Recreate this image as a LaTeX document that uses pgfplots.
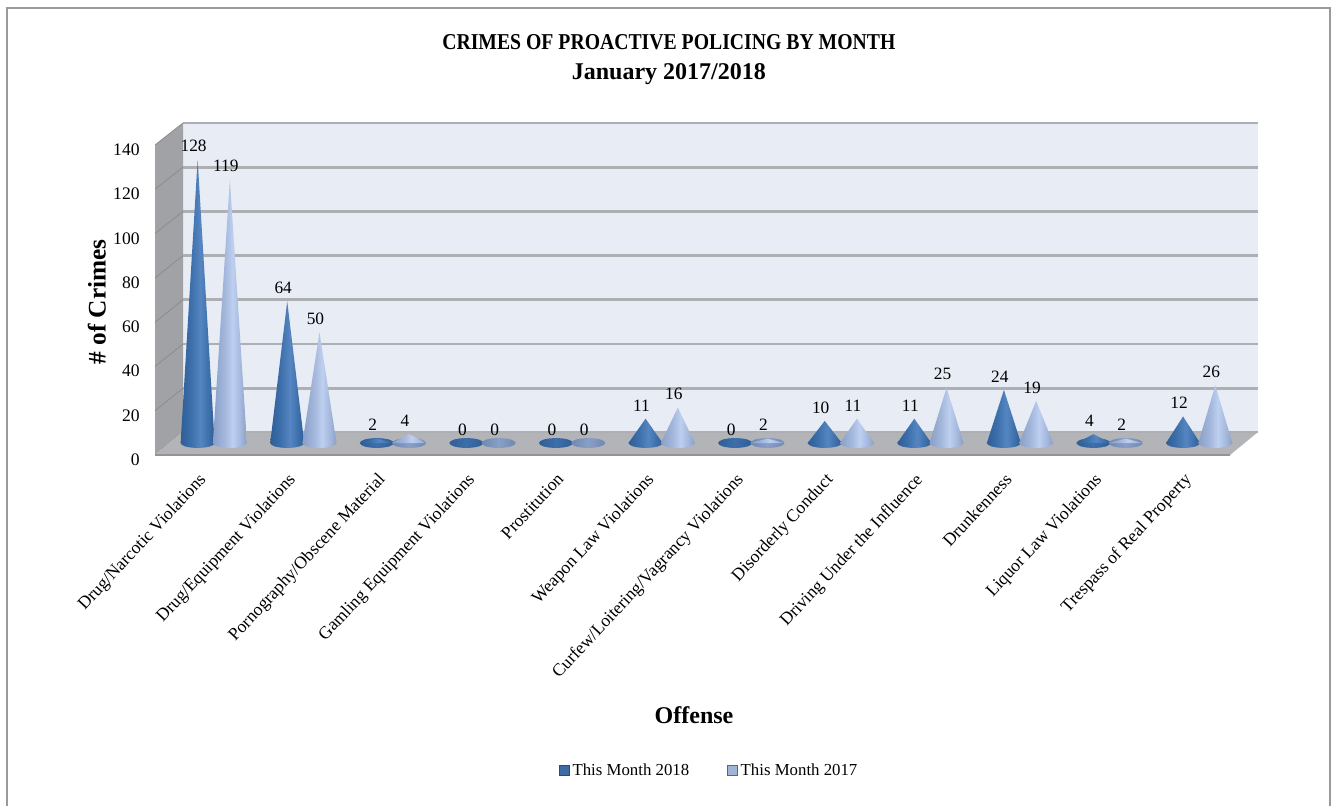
\documentclass[border=0pt]{standalone}
\usepackage{fontspec}
\setmainfont{Liberation Serif}
\newfontfamily\condfont[FakeStretch=0.87]{Liberation Serif}
\usepackage{pgfplots}
\usepackage{pgfplotstable}
\pgfplotsset{compat=1.18}

\definecolor{wallback}{HTML}{E8ECF5}
\definecolor{wallside}{HTML}{A1A2A5}
\definecolor{wallfloor}{HTML}{B2B4B7}
\definecolor{gridc}{HTML}{AEAFB3}
\definecolor{frameg}{HTML}{9A9A9A}
\definecolor{legdark}{HTML}{3E6BA3}
\definecolor{leglight}{HTML}{A0B4D8}
\definecolor{da}{HTML}{2F5E96}
\definecolor{db}{HTML}{3D6FAB}
\definecolor{dc}{HTML}{5586C2}
\definecolor{la}{HTML}{8A9FC6}
\definecolor{lb}{HTML}{A3B7DC}
\definecolor{lc}{HTML}{BED0F0}
\definecolor{ea}{HTML}{6F88B2}

\pgfdeclarehorizontalshading{conedark}{100bp}{
  color(0bp)=(da); color(25bp)=(da); color(40bp)=(db);
  color(54bp)=(dc); color(66bp)=(db); color(75bp)=(da); color(100bp)=(da)}
\pgfdeclarehorizontalshading{conelight}{100bp}{
  color(0bp)=(la); color(25bp)=(la); color(42bp)=(lb);
  color(54bp)=(lc); color(66bp)=(lb); color(75bp)=(la); color(100bp)=(la)}
\pgfdeclarehorizontalshading{basedark}{100bp}{
  color(0bp)=(da); color(25bp)=(da); color(50bp)=(db); color(75bp)=(da); color(100bp)=(da)}
\pgfdeclarehorizontalshading{baselight}{100bp}{
  color(0bp)=(ea); color(25bp)=(ea); color(50bp)=(la); color(75bp)=(ea); color(100bp)=(ea)}

% values per offense
\pgfplotstableread{
x  v18 v17
0  128 119
1  64  50
2  2   4
3  0   0
4  0   0
5  11  16
6  0   2
7  10  11
8  11  25
9  24  19
10 4   2
11 12  26
}\crimes

% base ellipse outline, unit size
\pgfplotstableread{
a      b
-1     0
-0.92  -0.38
-0.71  -0.71
-0.38  -0.92
0      -1
0.38   -0.92
0.71   -0.71
0.92   -0.38
1      0
0.92   0.38
0.71   0.71
0.38   0.92
0      1
-0.38  0.92
-0.71  0.71
-0.92  0.38
}\unitellipse

% #1 category, #2 value, #3 cone shading, #4 flat base shading, #5 x offset
\newcommand\cone[5]{%
  \pgfmathsetmacro\X{#1+0.156+#5}%
  \pgfmathsetmacro\L{\X-0.19}%
  \pgfmathsetmacro\R{\X+0.19}%
  \pgfmathsetmacro\T{#2+5.42}%
  \ifdim #2pt>8pt \def\baseshade{#3}\else \def\baseshade{#4}\fi
  \edef\doit{%
    \noexpand\addplot[shading=\baseshade,draw=none,forget plot] table[x expr=\X+0.19*\noexpand\thisrow{a},y expr=5.42+2.26*\noexpand\thisrow{b}] {\noexpand\unitellipse};
    \noexpand\addplot[shading=#3,draw=none,forget plot] coordinates {(\L,5.42) (\X,\T) (\R,5.42)};
  }\doit}

\begin{document}
\begin{tikzpicture}[x=0.75pt,y=-0.75pt]
  \useasboundingbox (0,0) rectangle (1337,806);
  \fill[white] (0,0) rectangle (1337,806);
  \draw[frameg,line width=1.5pt] (7,806) -- (7,8) -- (1330,8) -- (1330,806);

  % 3d walls
  \fill[wallback] (183,123) rectangle (1258,432);
  \fill[wallside] (155,145) -- (183,123) -- (183,432) -- (155,455) -- cycle;
  \fill[wallfloor] (155,455) -- (183,432) -- (1258,432) -- (1230,455) -- cycle;
  \foreach \k in {0,...,6}{
    \draw[gridc,line width=2.2pt] (183,123+44.2*\k) -- (1258,123+44.2*\k);
    \draw[black!45,line width=0.6pt] (155,145+44.3*\k) -- (183,123+44.2*\k);
  }
  \draw[gridc,line width=2pt] (183,432) -- (1258,432);
  \draw[black!42,line width=1.4pt] (155,455) -- (1230,455);

  \begin{axis}[
    at={(116.25pt,-341.25pt)},
    anchor=south west,
    scale only axis,
    width=806.25pt,
    height=232.5pt,
    xmin=-0.5, xmax=11.5,
    ymin=0, ymax=140,
    clip=false,
    axis line style={draw=none},
    major tick length=0pt,
    ytick={0,20,...,140},
    xtick={0,...,11},
    xticklabels={Drug/Narcotic Violations,Drug/Equipment Violations,Pornography/Obscene Material,Gamling Equipment Violations,Prostitution,Weapon Law Violations,Curfew/Loitering/Vagrancy Violations,Disorderly Conduct,Driving Under the Influence,Drunkenness,Liquor Law Violations,Trespass of Real Property},
    /pgf/number format/assume math mode=true,
    tick label style={font=\fontsize{13.2}{15}\selectfont},
    x tick label style={rotate=47,anchor=north east,inner sep=0pt,xshift=-10.3pt,yshift=-7.3pt},
    y tick label style={anchor=east,xshift=-8pt,yshift=-3.5pt},
    title={CRIMES OF PROACTIVE POLICING BY MONTH\\{\normalfont\bfseries\fontsize{18}{22.5}\selectfont January 2017/2018}},
    title style={at={(0.478,1.249)},anchor=center,align=center,inner sep=0pt,
      font=\condfont\bfseries\fontsize{17}{22.5}\selectfont},
    xlabel={Offense},
    xlabel style={at={(0.5014,-0.8387)},anchor=center,font=\bfseries\fontsize{18}{20}\selectfont},
    ylabel={\# of Crimes},
    ylabel style={at={(-0.054,0.4935)},anchor=center,font=\bfseries\fontsize{19}{20}\selectfont},
    legend style={at={(0.516,-1.0195)},anchor=center,draw=none,fill=none,legend columns=2,
      font=\fontsize{12.6}{14}\selectfont,/tikz/every even column/.append style={column sep=26.5pt}},
    legend cell align=left,
    nodes near coords style={font=\fontsize{13}{15}\selectfont,anchor=south,inner sep=0pt,yshift=5.5pt,xshift=-3pt},
  ]
    \pgfplotsforeachungrouped \i in {0,...,11}{
      \pgfplotstablegetelem{\i}{v18}\of\crimes
      \edef\vv{\pgfplotsretval}
      \cone{\i}{\vv}{conedark}{basedark}{-0.18}
      \pgfplotstablegetelem{\i}{v17}\of\crimes
      \edef\vv{\pgfplotsretval}
      \cone{\i}{\vv}{conelight}{baselight}{0.18}
    }
    \addlegendimage{legend image code/.code={\fill[legdark,draw=legdark!70!black,line width=0.4pt] (0pt,-3.5pt) rectangle (7.5pt,4pt);}}
    \addlegendimage{legend image code/.code={\fill[leglight,draw=legdark,line width=0.6pt] (0pt,-3.5pt) rectangle (7.5pt,4pt);}}
    \addplot[draw=none,mark=none,nodes near coords,point meta=explicit,forget plot]
      table[x expr=\thisrow{x}+0.156-0.18,y expr=\thisrow{v18}+5.42,meta=v18] {\crimes};
    \addplot[draw=none,mark=none,nodes near coords,point meta=explicit,forget plot]
      table[x expr=\thisrow{x}+0.156+0.18,y expr=\thisrow{v17}+5.42,meta=v17] {\crimes};
    \legend{This Month 2018,This Month 2017}
  \end{axis}
\end{tikzpicture}
\end{document}
